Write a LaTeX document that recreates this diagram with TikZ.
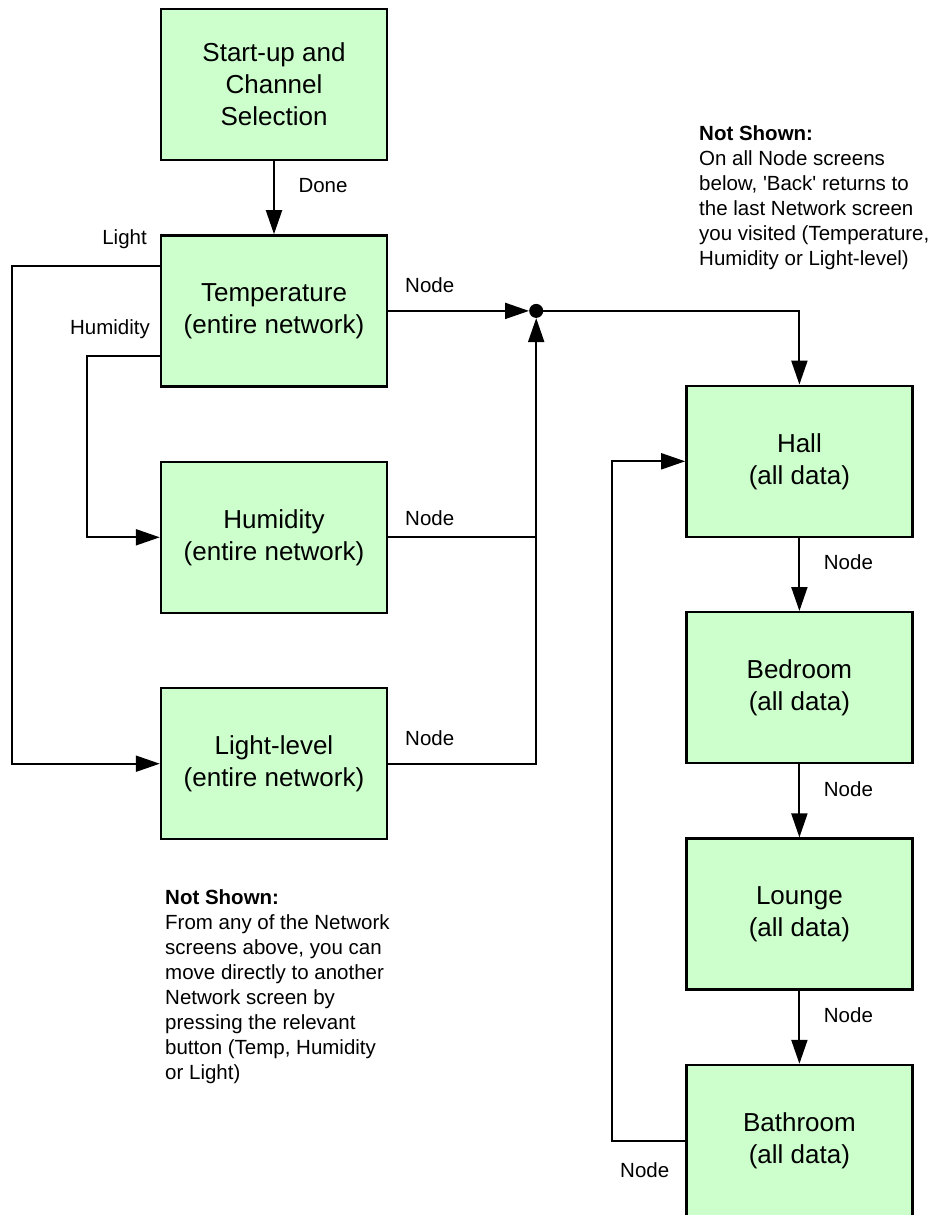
\documentclass[tikz,border=0pt]{standalone}
\usepackage{fontspec}
\setmainfont{Liberation Sans}
\usepackage{xcolor}
\usepackage{tikz}
\usetikzlibrary{arrows.meta,positioning}
\definecolor{screengreen}{RGB}{204, 255, 204}

\begin{document}
\begin{tikzpicture}[
    x=1pt, y=-1pt,
    node distance=73pt,
    screen/.style={rectangle, draw, fill=screengreen, line width=2.4pt, minimum width=226pt, minimum height=151pt, inner sep=0pt, align=center, font=\fontsize{26}{32}\selectfont},
    lbl/.style={inner sep=0pt, font=\fontsize{20.5}{25}\selectfont},
    downlbl/.style={lbl, midway, anchor=west, xshift=23.5pt, yshift=12pt},
    note/.style={lbl, anchor=north west, align=left},
    link/.style={line width=2pt},
    arr/.style={link, -{Triangle[length=24pt, width=16pt]}},
]
    \clip (0,0) rectangle (933,1215);

    % Network screens
    \node[screen] (start) at (274,84.5) {Start-up and\\Channel\\Selection};
    \node[screen, below=of start] (temp) {Temperature\\(entire network)};
    \node[screen, below=of temp] (hum) {Humidity\\(entire network)};
    \node[screen, below=of hum] (light) {Light-level\\(entire network)};

    % Node screens
    \node[screen, below right=-3pt and 297pt of temp] (hall) {Hall\\(all data)};
    \node[screen, below=of hall] (bed) {Bedroom\\(all data)};
    \node[screen, below=of bed] (lounge) {Lounge\\(all data)};
    \node[screen, below=of lounge] (bath) {Bathroom\\(all data)};

    % Junction
    \node[circle, fill, inner sep=0pt, minimum size=14pt] (join) at ([xshift=148pt]temp.east) {};
    \coordinate (humjoin) at (hum -| join);

    % Arrows
    \draw[arr] (start) -- node[downlbl] (done) {Done} (temp);
    \draw[arr] ([yshift=45pt]temp.west) -- node[lbl, pos=0, anchor=east, xshift=-12pt, yshift=27pt] (tolight) {Light} ++(-148pt,0) |- (light.west);
    \draw[arr] ([yshift=-45pt]temp.west) -- node[lbl, pos=0, anchor=east, xshift=-9pt, yshift=27pt] (tohum) {Humidity} ++(-73pt,0) |- (hum.west);
    \draw[arr] (temp) -- node[lbl, pos=0, anchor=west, xshift=16pt, yshift=26pt] (tempout) {Node} (join);
    \draw[link] (hum) -- node[lbl, pos=0, anchor=west, xshift=16pt, yshift=19pt] (humout) {Node} (humjoin);
    \draw[arr] (light) -| node[lbl, pos=0, anchor=west, xshift=16pt, yshift=26pt] (lightout) {Node} (join);
    \draw[arr] (join) -| (hall);
    \draw[arr] (hall) -- node[downlbl] (hallout) {Node} (bed);
    \draw[arr] (bed) -- node[downlbl] (bedout) {Node} (lounge);
    \draw[arr] (lounge) -- node[downlbl] (loungeout) {Node} (bath);
    \draw[arr] (bath.west) -- node[lbl, pos=0, anchor=east, xshift=-15pt, yshift=-30pt] (bathout) {Node} ++(-73pt,0) |- (hall.west);

    % Notes
    \node[note] (notenode) at (699,125) {\textbf{Not Shown:}\\On all Node screens\\below, \textquotesingle Back\textquotesingle{} returns to\\the last Network screen\\you visited (Temperature,\\Humidity or Light-level)};
    \node[note] (notenet) at (165,889) {\textbf{Not Shown:}\\From any of the Network\\screens above, you can\\move directly to another\\Network screen by\\pressing the relevant\\button (Temp, Humidity\\or Light)};
\end{tikzpicture}
\end{document}
